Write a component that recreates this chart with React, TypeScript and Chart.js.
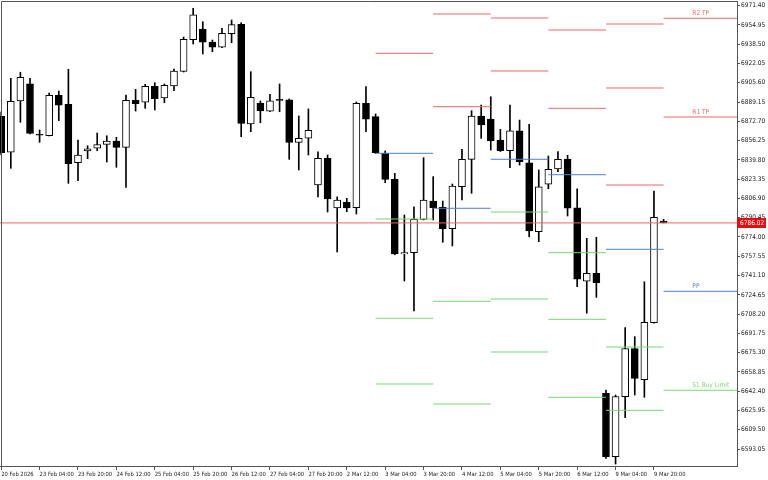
import React, { useEffect, useRef } from "react";
import { Chart, registerables } from "chart.js";

Chart.register(...registerables);

const FONT = "'DejaVu Sans Condensed', 'DejaVu Sans', sans-serif";

// ---- time axis ----
const tickIndex = [0, 4, 8, 12, 16, 20, 24, 28, 32, 36, 40, 44, 48, 52, 56, 60, 64, 68];
const tickLabels = [
  "20 Feb 2026", "23 Feb 04:00", "23 Feb 20:00", "24 Feb 12:00", "25 Feb 04:00",
  "25 Feb 20:00", "26 Feb 12:00", "27 Feb 04:00", "27 Feb 20:00", "2 Mar 12:00",
  "3 Mar 04:00", "3 Mar 20:00", "4 Mar 12:00", "5 Mar 04:00", "5 Mar 20:00",
  "6 Mar 12:00", "9 Mar 04:00", "9 Mar 20:00",
];

// ---- price axis ----
const priceTicks = [
  6971.40, 6954.95, 6938.50, 6922.05, 6905.60, 6889.15, 6872.70, 6856.25, 6839.80,
  6823.35, 6806.90, 6790.45, 6774.00, 6757.55, 6741.10, 6724.65, 6708.20, 6691.75,
  6675.30, 6658.85, 6642.40, 6625.95, 6609.50, 6593.05,
];
const priceMin = 6578.55;
const priceMax = 6975.41;
const lastPrice = 6786.02;

// ---- H4 candles ----
const opens = [
  6877.3, 6846.3, 6890.1, 6904.8, 6861.6, 6860.5, 6894.9, 6887.3, 6837.4, 6847.4,
  6849.7, 6853.1, 6855.9, 6850.5, 6890.6, 6889.0, 6902.6, 6892.6, 6902.9, 6915.4,
  6942.4, 6951.5, 6940.4, 6935.9, 6947.5, 6955.5, 6870.4, 6888.1, 6881.3, 6890.9,
  6891.0, 6854.8, 6858.3, 6818.4, 6841.2, 6798.8, 6803.6, 6799.0, 6888.1, 6876.7,
  6845.4, 6823.2, 6759.5, 6760.6, 6789.1, 6804.7, 6799.3, 6781.1, 6816.9, 6840.3,
  6877.3, 6874.7, 6856.8, 6847.6, 6864.5, 6837.4, 6778.5, 6819.0, 6832.0, 6840.5,
  6798.8, 6736.4, 6743.0, 6640.6, 6586.5, 6637.7, 6678.7, 6652.2, 6700.9, 6787.6,
];
const highs = [
  6880.7, 6909.4, 6914.6, 6909.4, 6865.3, 6896.9, 6898.6, 6917.1, 6856.8, 6851.9,
  6862.7, 6860.4, 6859.1, 6895.2, 6900.0, 6904.3, 6905.7, 6904.6, 6917.4, 6944.7,
  6969.2, 6957.7, 6942.1, 6952.1, 6959.2, 6956.9, 6915.1, 6890.1, 6895.8, 6904.6,
  6891.8, 6877.3, 6883.3, 6846.6, 6844.0, 6808.2, 6807.0, 6889.2, 6902.3, 6879.0,
  6847.4, 6828.3, 6792.8, 6799.8, 6841.7, 6825.5, 6804.7, 6819.2, 6848.8, 6881.8,
  6886.6, 6893.7, 6865.9, 6886.6, 6873.8, 6870.2, 6831.2, 6843.1, 6846.8, 6843.7,
  6815.0, 6772.9, 6773.7, 6643.4, 6639.1, 6696.6, 6688.9, 6735.8, 6813.2, 6789.1,
];
const lows = [
  6844.0, 6832.6, 6871.9, 6861.9, 6854.8, 6860.2, 6873.3, 6819.8, 6822.0, 6840.8,
  6847.6, 6838.0, 6833.5, 6816.4, 6881.5, 6883.8, 6882.4, 6888.6, 6898.9, 6914.8,
  6938.7, 6930.2, 6932.1, 6935.5, 6939.8, 6859.6, 6863.9, 6871.5, 6880.9, 6880.9,
  6840.3, 6831.2, 6844.0, 6808.2, 6795.3, 6761.2, 6795.6, 6793.6, 6863.9, 6845.3,
  6820.3, 6758.9, 6736.4, 6710.8, 6788.5, 6788.5, 6769.5, 6766.3, 6805.6, 6811.3,
  6858.2, 6848.2, 6847.0, 6833.1, 6835.4, 6774.2, 6770.0, 6815.2, 6829.7, 6791.9,
  6731.6, 6708.9, 6722.5, 6585.1, 6580.2, 6619.8, 6639.1, 6637.2, 6700.4, 6786.0,
];
const closes = [
  6845.9, 6889.8, 6910.3, 6862.5, 6860.8, 6894.9, 6886.6, 6836.5, 6844.0, 6849.3,
  6852.8, 6855.9, 6850.5, 6890.6, 6887.8, 6902.6, 6892.0, 6903.5, 6915.7, 6942.7,
  6963.5, 6940.2, 6935.9, 6947.8, 6955.2, 6871.0, 6893.2, 6881.5, 6890.3, 6890.6,
  6854.8, 6858.3, 6865.1, 6841.2, 6806.4, 6805.6, 6798.8, 6888.1, 6874.5, 6845.9,
  6823.2, 6759.5, 6760.6, 6789.1, 6805.6, 6799.0, 6781.1, 6817.5, 6840.3, 6877.3,
  6869.6, 6856.2, 6847.6, 6864.5, 6838.2, 6779.1, 6816.9, 6831.8, 6840.3, 6798.5,
  6738.1, 6743.0, 6735.0, 6586.5, 6637.7, 6678.7, 6653.4, 6701.2, 6790.8, 6786.02,
];

// ---- daily pivot levels (segments by candle index) ----
const segStart = [39, 45, 51, 57, 63, 69];
const segEnd = [45, 51, 57, 63, 69, 76.65];
const R3 = [null, null, null, null, 6955.78, null];
const R2 = [null, 6964.32, 6960.9, 6950.66, 6901.16, 6960.65];
const R1 = [6930.78, 6885.2, 6915.67, 6883.83, 6818.37, 6876.41];
const PP = [6845.43, 6798.49, 6840.31, 6827.17, 6763.5, 6727.65];
const S1 = [6789.36, 6719.1, 6795.33, 6760.6, 6680.11, 6643.16];
const S2 = [6704.61, 6631.47, 6721.08, 6703.75, 6626.09, null];
const S3 = [6648.54, null, 6675.85, 6637.19, null, null];
const levelLabels = ["R2 TP", "R1 TP", "PP", "S1 Buy Limit"];

const xMin = -0.125;
const xMax = 76.65;

const RED = "#ee6666";
const BLUE = "#4d7fd6";
const GREEN = "#7ad67a";

function segments(levels: (number | null)[][]) {
  const pts: { x: number; y: number | null }[] = [];
  levels.forEach((lv) => {
    lv.forEach((v, i) => {
      if (v == null) return;
      pts.push({ x: segStart[i], y: v });
      pts.push({ x: segEnd[i], y: v });
      pts.push({ x: segEnd[i], y: null });
    });
  });
  return pts;
}

export default function App() {
  const ref = useRef<HTMLCanvasElement | null>(null);

  useEffect(() => {
    if (!ref.current) return;
    const idx = opens.map((_, i) => i);
    const wickData = idx.map((i) => ({ x: i, y: [lows[i], highs[i]] }));
    const bodyData = idx.map((i) => ({ x: i, y: [opens[i], closes[i]] }));
    const bodyFill = idx.map((i) => (closes[i] >= opens[i] ? "#ffffff" : "#000000"));

    const overlay = {
      id: "mtOverlay",
      afterDraw(chart: any) {
        const { ctx, chartArea, scales } = chart;
        const xs = scales.x;
        const ys = scales.y;
        ctx.save();
        // frame (top / left)
        ctx.strokeStyle = "#555555";
        ctx.lineWidth = 1;
        ctx.beginPath();
        ctx.moveTo(chartArea.left + 1.5, chartArea.bottom);
        ctx.lineTo(chartArea.left + 1.5, chartArea.top + 0.5);
        ctx.lineTo(chartArea.right, chartArea.top + 0.5);
        ctx.stroke();

        // level labels
        ctx.font = `6.5px ${FONT}`;
        ctx.textAlign = "left";
        ctx.textBaseline = "bottom";
        const lx = xs.getPixelForValue(72);
        const last = segStart.length - 1;
        const lv = [R2[last], R1[last], PP[last], S1[last]];
        const cols = [RED, RED, BLUE, GREEN];
        lv.forEach((v, i) => {
          if (v == null) return;
          ctx.fillStyle = cols[i];
          ctx.fillText(levelLabels[i], lx, ys.getPixelForValue(v) - 1.5);
        });

        // current price tag
        const py = Math.round(ys.getPixelForValue(lastPrice));
        ctx.fillStyle = "#dd1111";
        ctx.fillRect(chartArea.right, py - 5, 29, 10);
        ctx.fillStyle = "#ffffff";
        ctx.textBaseline = "middle";
        ctx.fillText(lastPrice.toFixed(2), chartArea.right + 3, py + 0.5);
        ctx.restore();
      },
    };

    const chart = new Chart(ref.current, {
      type: "bar",
      data: {
        datasets: [
          {
            type: "line",
            label: "price",
            data: [
              { x: xMin, y: lastPrice },
              { x: xMax, y: lastPrice },
            ],
            borderColor: RED,
            borderWidth: 1,
            pointRadius: 0,
            order: 0,
          } as any,
          {
            type: "line",
            label: "resistance",
            data: segments([R3, R2, R1]),
            borderColor: RED,
            borderWidth: 1,
            pointRadius: 0,
            spanGaps: false,
            order: 0,
          } as any,
          {
            type: "line",
            label: "pivot",
            data: segments([PP]),
            borderColor: BLUE,
            borderWidth: 1,
            pointRadius: 0,
            spanGaps: false,
            order: 0,
          } as any,
          {
            type: "line",
            label: "support",
            data: segments([S1, S2, S3]),
            borderColor: GREEN,
            borderWidth: 1,
            pointRadius: 0,
            spanGaps: false,
            order: 0,
          } as any,
          {
            type: "bar",
            label: "body",
            data: bodyData as any,
            backgroundColor: bodyFill,
            borderColor: "#000000",
            borderWidth: 1,
            borderSkipped: false,
            barThickness: 7,
            minBarLength: 1,
            grouped: false,
            order: 1,
          } as any,
          {
            type: "bar",
            label: "wick",
            data: wickData as any,
            backgroundColor: "#000000",
            borderWidth: 0,
            barThickness: 1,
            grouped: false,
            order: 2,
          } as any,
        ],
      },
      options: {
        responsive: false,
        animation: false,
        events: [],
        layout: { padding: { top: 1, left: 0, right: 0, bottom: 0 } },
        plugins: { legend: { display: false }, tooltip: { enabled: false } },
        scales: {
          x: {
            type: "linear",
            position: "bottom",
            offset: false,
            min: xMin,
            max: xMax,
            bounds: "data",
            afterBuildTicks: (s: any) => {
              s.ticks = tickIndex.map((v) => ({ value: v }));
            },
            afterFit: (s: any) => {
              s.height = 14;
              s.paddingLeft = 0;
              s.paddingRight = 0;
            },
            ticks: {
              autoSkip: false,
              maxRotation: 0,
              minRotation: 0,
              align: "start",
              padding: 1,
              color: "#222222",
              font: { size: 5.8, family: FONT },
              callback: (_v: any, i: number) => tickLabels[i],
            },
            grid: { offset: false, drawOnChartArea: false, drawTicks: true, tickLength: 4, color: "#555555" },
            border: { display: true, color: "#555555" },
          } as any,
          y: {
            type: "linear",
            position: "right",
            min: priceMin,
            max: priceMax,
            bounds: "data",
            afterBuildTicks: (s: any) => {
              s.ticks = priceTicks.map((v) => ({ value: v }));
            },
            afterFit: (s: any) => {
              s.width = 31;
              s.paddingTop = 0;
              s.paddingBottom = 0;
            },
            ticks: {
              padding: 1,
              color: "#222222",
              font: { size: 6.5, family: FONT },
              callback: (v: any) => Number(v).toFixed(2),
            },
            grid: { drawOnChartArea: false, drawTicks: true, tickLength: 3, color: "#555555" },
            border: { display: true, color: "#555555" },
          } as any,
        },
      },
      plugins: [overlay],
    });
    return () => chart.destroy();
  }, []);

  return (
    <div style={{ position: "fixed", left: 0, top: 0, width: 768, height: 480, background: "#ffffff" }}>
      <canvas ref={ref} width={768} height={480} style={{ display: "block" }} />
    </div>
  );
}
